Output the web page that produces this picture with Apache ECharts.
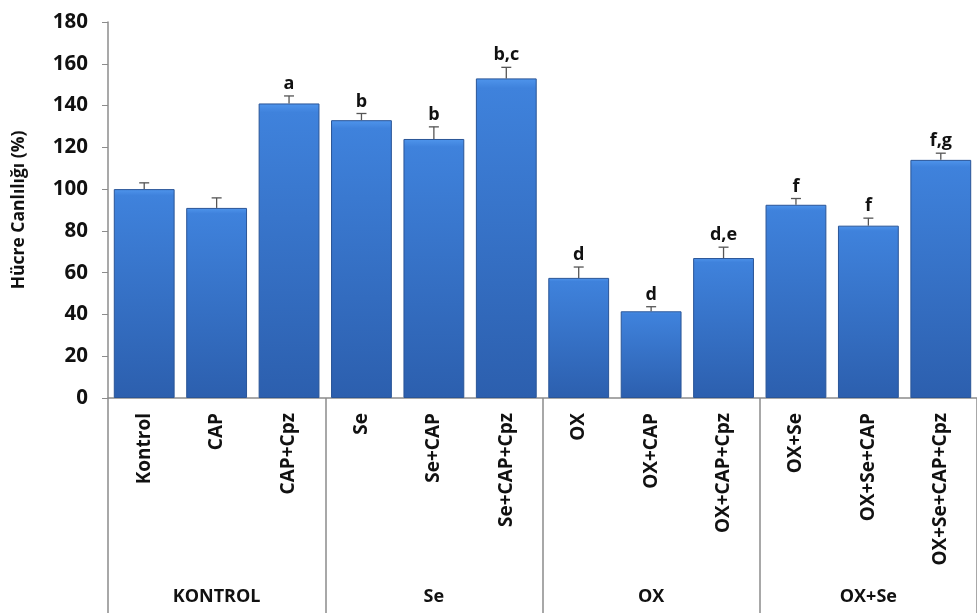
<!DOCTYPE html>
<html>
<head>
<meta charset="utf-8">
<script src="https://cdn.jsdelivr.net/npm/echarts@6/dist/echarts.min.js"></script>
<style>html,body{margin:0;padding:0;background:#fff}#c{width:977px;height:613px}</style>
</head>
<body>
<div id="c"></div>
<script>
const categories = ['Kontrol','CAP','CAP+Cpz','Se','Se+CAP','Se+CAP+Cpz','OX','OX+CAP','OX+CAP+Cpz','OX+Se','OX+Se+CAP','OX+Se+CAP+Cpz'];
const groups = ['KONTROL','Se','OX','OX+Se'];
const values = [100, 91, 141, 133, 124, 153, 57.5, 41.5, 67, 92.5, 82.5, 114];
const errors = [3, 4.8, 3.6, 3.2, 5.8, 5.3, 5.2, 2.2, 5.2, 3, 3.6, 3.2];
const letters = ['', '', 'a', 'b', 'b', 'b,c', 'd', 'd', 'd,e', 'f', 'f', 'f,g'];
const yTicks = {min: 0, max: 180, interval: 20};

const FONT = '"Open Sans", "DejaVu Sans", sans-serif';
const chart = echarts.init(document.getElementById('c'));

const errData = values.map((v, i) => [i, v, errors[i]]);

chart.setOption({
  animation: false,
  grid: {left: 108, top: 22, width: 877, height: 376, containLabel: false},
  xAxis: [
    {
      type: 'category', data: categories, position: 'bottom',
      axisLine: {show: true, lineStyle: {color: '#8c8c8c', width: 1.5}},
      axisTick: {show: false},
      axisLabel: {rotate: 90, margin: 15, interval: 0, color: '#111', fontFamily: FONT, fontWeight: 'bold', fontSize: 19}
    },
    {
      type: 'category', data: groups, position: 'bottom',
      axisLine: {show: false},
      axisTick: {show: true, length: 215, interval: 0, alignWithLabel: false, lineStyle: {color: '#8c8c8c', width: 1.5}},
      axisLabel: {margin: 190, interval: 0, color: '#111', fontFamily: FONT, fontWeight: 'bold', fontSize: 18}
    }
  ],
  yAxis: {
    type: 'value', min: yTicks.min, max: yTicks.max, interval: yTicks.interval,
    name: 'Hücre Canlılığı (%)', nameLocation: 'middle', nameGap: 80,
    nameTextStyle: {color: '#111', fontFamily: FONT, fontWeight: 'bold', fontSize: 17.5},
    axisLine: {show: true, lineStyle: {color: '#8c8c8c', width: 1.5}},
    axisTick: {show: true, length: 6, lineStyle: {color: '#8c8c8c'}},
    splitLine: {show: false},
    axisLabel: {margin: 20, color: '#111', fontFamily: FONT, fontWeight: 'bold', fontSize: 20.5}
  },
  series: [
    {
      type: 'bar', xAxisIndex: 0, data: values, barWidth: '84%',
      itemStyle: {
        color: new echarts.graphic.LinearGradient(0, 0, 0, 1, [
          {offset: 0, color: '#4f95ec'},
          {offset: 0.03, color: '#3f82dc'},
          {offset: 1, color: '#2c5fae'}
        ]),
        borderColor: '#2a5597', borderWidth: 1
      }
    },
    {
      type: 'custom', xAxisIndex: 0, data: errData, z: 5,
      renderItem: function (params, api) {
        const x = api.value(0), v = api.value(1), e = api.value(2);
        const lab = letters[params.dataIndex];
        const p0 = api.coord([x, v]);
        const p1 = api.coord([x, v + e]);
        const children = [
          {type: 'line', shape: {x1: p0[0], y1: p0[1], x2: p1[0], y2: p1[1]}, style: {stroke: '#555', lineWidth: 1.3}},
          {type: 'line', shape: {x1: p1[0] - 5, y1: p1[1], x2: p1[0] + 5, y2: p1[1]}, style: {stroke: '#555', lineWidth: 1.3}}
        ];
        if (lab) {
          children.push({type: 'text', style: {text: lab, x: p1[0], y: p1[1] - 3, textAlign: 'center', textVerticalAlign: 'bottom', fill: '#111', font: 'bold 18px ' + FONT}});
        }
        return {type: 'group', children: children};
      }
    }
  ]
});
</script>
</body>
</html>
